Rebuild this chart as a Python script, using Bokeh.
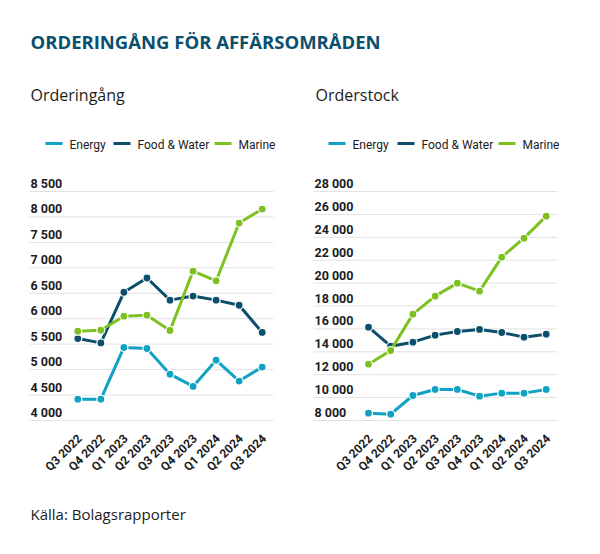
import math
from bokeh.plotting import figure
from bokeh.models import Range1d
from bokeh.core.properties import value
from bokeh.embed import file_html
from bokeh.resources import INLINE

# ---------------- data ----------------
quarters = ["Q3 2022", "Q4 2022", "Q1 2023", "Q2 2023", "Q3 2023",
            "Q4 2023", "Q1 2024", "Q2 2024", "Q3 2024"]
series_names = ["Energy", "Food & Water", "Marine"]

order_energy = [4420, 4420, 5435, 5415, 4910, 4670, 5185, 4775, 5050]
order_food = [5610, 5525, 6520, 6800, 6365, 6445, 6365, 6265, 5730]
order_marine = [5755, 5775, 6050, 6070, 5770, 6935, 6745, 7880, 8155]

stock_energy = [8640, 8555, 10185, 10710, 10710, 10125, 10390, 10390, 10710]
stock_food = [16150, 14490, 14840, 15455, 15775, 15950, 15685, 15280, 15540]
stock_marine = [12920, 14115, 17290, 18860, 19995, 19295, 22265, 23925, 25845]

order_ticks = [4000, 4500, 5000, 5500, 6000, 6500, 7000, 7500, 8000, 8500]
order_tick_labels = ["4 000", "4 500", "5 000", "5 500", "6 000",
                     "6 500", "7 000", "7 500", "8 000", "8 500"]
stock_ticks = [8000, 10000, 12000, 14000, 16000, 18000, 20000, 22000, 24000, 26000, 28000]
stock_tick_labels = ["8 000", "10 000", "12 000", "14 000", "16 000", "18 000",
                     "20 000", "22 000", "24 000", "26 000", "28 000"]

title_text = "ORDERINGÅNG FÖR AFFÄRSOMRÅDEN"
left_title = "Orderingång"
right_title = "Orderstock"
source_text = "Källa: Bolagsrapporter"

# ---------------- style ----------------
COLORS = ["#10a2c3", "#0c4e6c", "#7cc120"]
TITLE_COLOR = "#0b4f6e"
GRID_COLOR = "#e2e2e2"
TEXT_COLOR = "#1c1c1c"
MAIN_FONT = value("Open Sans")
COND_FONT = value("Roboto")

W, H = 592, 546


def linear_range(v_a, px_a, v_b, px_b, length):
    k = (v_b - v_a) / (px_b - px_a)
    return Range1d(start=v_a - px_a * k, end=v_a + (length - px_a) * k)


p = figure(width=W, height=H, output_backend="svg", toolbar_location=None,
           x_axis_type=None, y_axis_type=None, min_border=0,
           x_range=Range1d(0, W), y_range=Range1d(H, 0))
p.outline_line_color = None
p.background_fill_color = "white"
p.border_fill_color = "white"
p.grid.visible = False

idx = list(range(len(quarters)))

charts = [
    dict(name="l", x0=77.3, x1=261.7, grid=(29, 273), label_x=30,
         ticks=order_ticks, labels=order_tick_labels,
         vmin=order_ticks[0], vmax=order_ticks[-1],
         data=[order_energy, order_food, order_marine], title=left_title, title_x=30,
         legend_lines=[(45, 62), (113, 130), (214, 231)], legend_text=[69, 137, 238]),
    dict(name="r", x0=368.0, x1=545.7, grid=(313, 557), label_x=314,
         ticks=stock_ticks, labels=stock_tick_labels,
         vmin=stock_ticks[0], vmax=stock_ticks[-1],
         data=[stock_energy, stock_food, stock_marine], title=right_title, title_x=315,
         legend_lines=[(328, 345), (397, 414), (498, 515)], legend_text=[352, 421, 522]),
]

GRID_TOP, GRID_BOTTOM = 191, 420  # pixel rows (from top) of top / bottom gridline

for c in charts:
    xr, yr = c["name"] + "x", c["name"] + "y"
    p.extra_x_ranges[xr] = linear_range(0, c["x0"], len(quarters) - 1, c["x1"], W)
    p.extra_y_ranges[yr] = linear_range(c["vmin"], H - GRID_BOTTOM, c["vmax"], H - GRID_TOP, H)

    # gridlines
    n = len(c["ticks"])
    p.segment(x0=[c["grid"][0]] * n, x1=[c["grid"][1]] * n, y0=c["ticks"], y1=c["ticks"],
              y_range_name=yr, line_color=GRID_COLOR, line_width=1)
    # y tick labels above gridlines
    p.text(x=[c["label_x"]] * n, y=c["ticks"], text=c["labels"], y_range_name=yr,
           text_font=COND_FONT, text_font_style="bold", text_font_size="12.5px",
           text_color=TEXT_COLOR, text_align="left", text_baseline="middle",
           y_offset=-8)
    # x tick labels rotated
    p.text(x=idx, y=[436] * len(idx), text=quarters, x_range_name=xr,
           angle=math.pi / 4, text_font=COND_FONT, text_font_style="bold",
           text_font_size="12px", text_color=TEXT_COLOR, text_align="right",
           text_baseline="middle", x_offset=2)

    # series
    for vals, col in zip(c["data"], COLORS):
        p.line(x=idx, y=vals, x_range_name=xr, y_range_name=yr,
               line_color=col, line_width=3)
        p.scatter(x=idx, y=vals, x_range_name=xr, y_range_name=yr, size=8,
                  fill_color=col, line_color="white", line_width=1.2)

    # chart subtitle
    p.text(x=[c["title_x"]], y=[94], text=[c["title"]], text_font=MAIN_FONT,
           text_font_size="16px", text_color=TEXT_COLOR, text_baseline="middle")

    # legend
    ll = c["legend_lines"]
    p.segment(x0=[a for a, b in ll], x1=[b for a, b in ll], y0=[143] * 3, y1=[143] * 3,
              line_color=COLORS, line_width=3)
    p.text(x=c["legend_text"], y=[144] * 3, text=series_names, text_font=COND_FONT,
           text_font_size="12px", text_color=TEXT_COLOR, text_baseline="middle")

# main title and source
p.text(x=[30], y=[41], text=[title_text], text_font=MAIN_FONT, text_font_style="bold",
       text_font_size="18.5px", text_color=TITLE_COLOR, text_baseline="middle")
p.text(x=[30], y=[513], text=[source_text], text_font=MAIN_FONT, text_font_size="15px",
       text_color=TEXT_COLOR, text_baseline="middle")

open("out.html", "w").write(file_html(p, INLINE))
